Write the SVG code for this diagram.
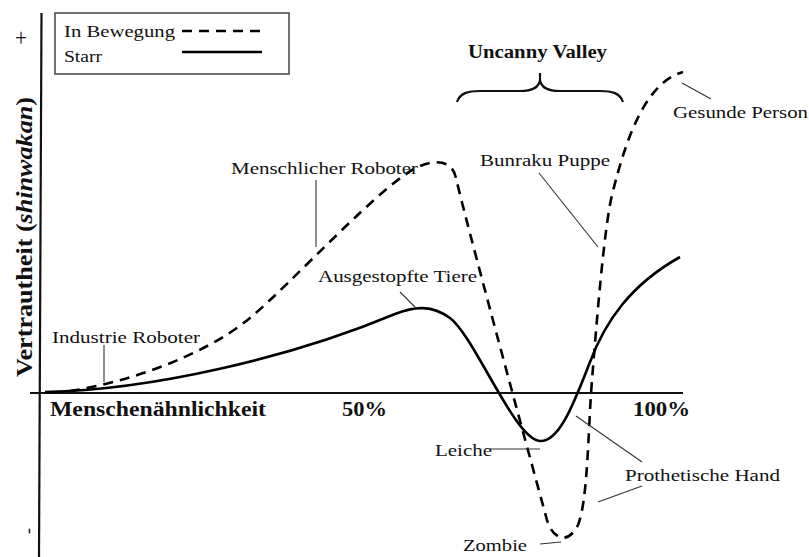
<svg xmlns="http://www.w3.org/2000/svg" width="809" height="557" viewBox="0 0 809 557">
<style>
text{font-family:"Liberation Serif","Times New Roman",serif;fill:#111}
.b{font-weight:bold}
.ax{stroke:#111;stroke-width:2.2;fill:none}
.cv{stroke:#000;stroke-width:2.6;fill:none;stroke-linecap:butt}
.dash{stroke-dasharray:10 7}
.lead{stroke:#333;stroke-width:1.1;fill:none}
</style>
<rect width="809" height="557" fill="#fff"/>
<g id="axes">
<line class="ax" x1="41.5" y1="13" x2="39" y2="557"/>
<line class="ax" x1="30" y1="393" x2="683" y2="393"/>
<text x="21" y="46" font-size="26" text-anchor="middle" textLength="12" lengthAdjust="spacingAndGlyphs">+</text>
<text x="24.5" y="531" font-size="18" text-anchor="middle" transform="rotate(90 24.5 531)" fill="#666">-</text>
<text class="b" transform="translate(32 377) rotate(-90)" font-size="24" textLength="280" lengthAdjust="spacingAndGlyphs">Vertrautheit (<tspan font-style="italic">shinwakan</tspan>)</text>
<text class="b" x="50" y="416" font-size="20" textLength="216" lengthAdjust="spacingAndGlyphs">Menschenähnlichkeit</text>
<text class="b" x="342" y="416" font-size="20" textLength="45" lengthAdjust="spacingAndGlyphs">50%</text>
<text class="b" x="633" y="416" font-size="20" textLength="57" lengthAdjust="spacingAndGlyphs">100%</text>
</g>
<g id="legend">
<rect x="55" y="13" width="234" height="61" fill="#fff" stroke="#444" stroke-width="1.5"/>
<text x="64" y="37" font-size="17" textLength="111" lengthAdjust="spacingAndGlyphs">In Bewegung</text>
<text x="64" y="62" font-size="17" textLength="38" lengthAdjust="spacingAndGlyphs">Starr</text>
<line class="cv dash" x1="182" y1="31" x2="262" y2="31" stroke-width="2.2"/>
<line class="cv" x1="182" y1="52" x2="262" y2="52" stroke-width="2.2"/>
</g>
<g id="uncanny-valley">
<text class="b" x="468" y="58" font-size="18" textLength="139" lengthAdjust="spacingAndGlyphs">Uncanny Valley</text>
<path class="ax" stroke-width="2" d="M457 102 C460 93 468 91 480 91 L520 91 C532 91 539 88 540 80 L540 73 M540 80 C541 88 548 91 560 91 L600 91 C612 91 620 93 623 102"/>
</g>
<g id="connectors">
<path id="curve-bewegung" class="cv dash" d="M70 391 C130 382 205 355 250 318 C290 285 385 180 420 166 C432 161 452 158 456 178 C464 214 525 440 547 520 C553 540 568 545 578 525 C588 500 588 430 592 380 C596 330 604 228 612 195 C628 130 648 82 683 72"/>
<path id="curve-starr" class="cv" d="M45 392 C150 390 290 358 395 314 C415 306 432 305 450 318 C475 337 515 440 540 441 C560 442 575 400 590 362 C605 322 630 285 680 257"/>
<g id="leaders">
<line class="lead" x1="104" y1="345" x2="104" y2="382"/>
<line class="lead" x1="316" y1="180" x2="316" y2="247"/>
<line class="lead" x1="400" y1="292" x2="415" y2="307"/>
<line class="lead" x1="539" y1="173" x2="598" y2="247"/>
<line class="lead" x1="682" y1="83" x2="711" y2="99"/>
<line class="lead" x1="490" y1="449" x2="540" y2="449"/>
<line class="lead" x1="576" y1="416" x2="642" y2="462"/>
<line class="lead" x1="642" y1="486" x2="598" y2="502"/>
<line class="lead" x1="540" y1="544" x2="561" y2="542"/>
</g>
</g>
<g id="industrie-roboter"><text x="52" y="343" font-size="17" textLength="148" lengthAdjust="spacingAndGlyphs">Industrie Roboter</text></g>
<g id="menschlicher-roboter"><text x="231" y="174" font-size="17" textLength="187" lengthAdjust="spacingAndGlyphs">Menschlicher Roboter</text></g>
<g id="ausgestopfte-tiere"><text x="318" y="282" font-size="17" textLength="159" lengthAdjust="spacingAndGlyphs">Ausgestopfte Tiere</text></g>
<g id="bunraku-puppe"><text x="480" y="166" font-size="17" textLength="130" lengthAdjust="spacingAndGlyphs">Bunraku Puppe</text></g>
<g id="gesunde-person"><text x="673" y="118" font-size="17" textLength="135" lengthAdjust="spacingAndGlyphs">Gesunde Person</text></g>
<g id="leiche"><text x="435" y="456" font-size="17" textLength="57" lengthAdjust="spacingAndGlyphs">Leiche</text></g>
<g id="prothetische-hand"><text x="625" y="481" font-size="17" textLength="155" lengthAdjust="spacingAndGlyphs">Prothetische Hand</text></g>
<g id="zombie"><text x="463" y="551" font-size="17" textLength="64" lengthAdjust="spacingAndGlyphs">Zombie</text></g>
</svg>
